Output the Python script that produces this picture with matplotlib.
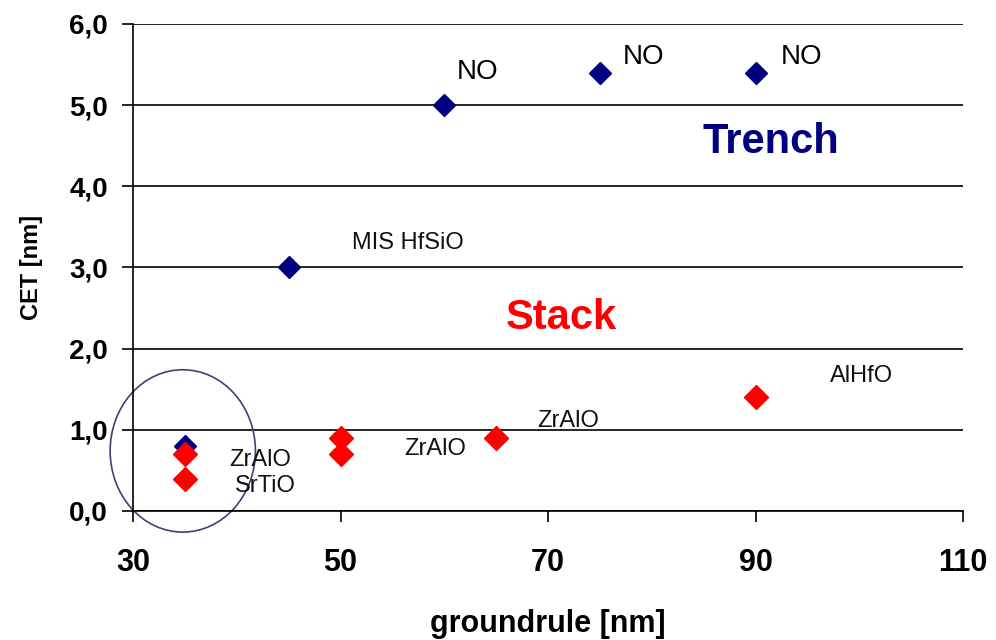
import matplotlib.pyplot as plt
from matplotlib.patches import Ellipse
from matplotlib.ticker import FuncFormatter

plt.rcParams['font.family'] = ['Liberation Sans', 'DejaVu Sans']

# Trench (blue) and stack (red) data
trench_x = [35, 45, 60, 75, 90]
trench_y = [0.8, 3.0, 5.0, 5.4, 5.4]
stack_x = [35, 35, 50, 50, 65, 90]
stack_y = [0.7, 0.4, 0.9, 0.7, 0.9, 1.4]

# annotations: (text, x, y)
labels = [
    ("NO", 61.2, 5.41), ("NO", 77.2, 5.59), ("NO", 92.4, 5.59),
]
small_labels = [
    ("MIS HfSiO", 51.1, 3.30), ("AlHfO", 97.2, 1.66), ("ZrAlO", 69.0, 1.11),
    ("ZrAlO", 56.1, 0.76), ("ZrAlO", 39.25, 0.63), ("SrTiO", 39.8, 0.31),
]

fig = plt.figure(figsize=(9.96, 6.4), dpi=100)
ax = fig.add_axes([0.1335, 0.2016, 0.8335, 0.7609])

ax.plot(trench_x, trench_y, linestyle='none', marker='D', markersize=11, color='#000080')
ax.plot(stack_x, stack_y, linestyle='none', marker='D', markersize=12, color='#ff0000')

for t, x, y in labels:
    ax.text(x, y, t, fontsize=20, va='center', ha='left', color='black')
for t, x, y in small_labels:
    ax.text(x, y, t, fontsize=17, va='center', ha='left', color='#111111')

ax.text(84.9, 4.55, "Trench", fontsize=30, fontweight='bold', color='#000080', va='center')
ax.text(65.9, 2.38, "Stack", fontsize=30, fontweight='bold', color='#ff0000', va='center')

ell = Ellipse((34.8, 0.74), 14, 2.0, fill=False, edgecolor='#404078', linewidth=1.2, clip_on=False)
ax.add_patch(ell)

ax.set_xlim(30, 110)
ax.set_ylim(0, 6)
ax.set_xticks([30, 50, 70, 90, 110])
ax.set_yticks([0, 1, 2, 3, 4, 5, 6])
ax.yaxis.set_major_formatter(FuncFormatter(lambda v, p: f"{v:.1f}".replace('.', ',')))
ax.grid(axis='y', color='black', linewidth=1.2)
ax.set_axisbelow(True)
for s in ['top', 'right']:
    ax.spines[s].set_visible(False)
for s in ['left', 'bottom']:
    ax.spines[s].set_linewidth(1.2)
ax.tick_params(direction='out', length=8, width=1.2)
ax.tick_params(axis='x', pad=19, labelsize=22)
ax.tick_params(axis='y', pad=10, labelsize=20)
for lab in ax.get_xticklabels() + ax.get_yticklabels():
    lab.set_fontweight('bold')

ax.set_xlabel("groundrule [nm]", fontsize=22, fontweight='bold', labelpad=22)
ax.set_ylabel("CET [nm]", fontsize=17, fontweight='bold', labelpad=19)

fig.savefig("out.png", dpi=100)
